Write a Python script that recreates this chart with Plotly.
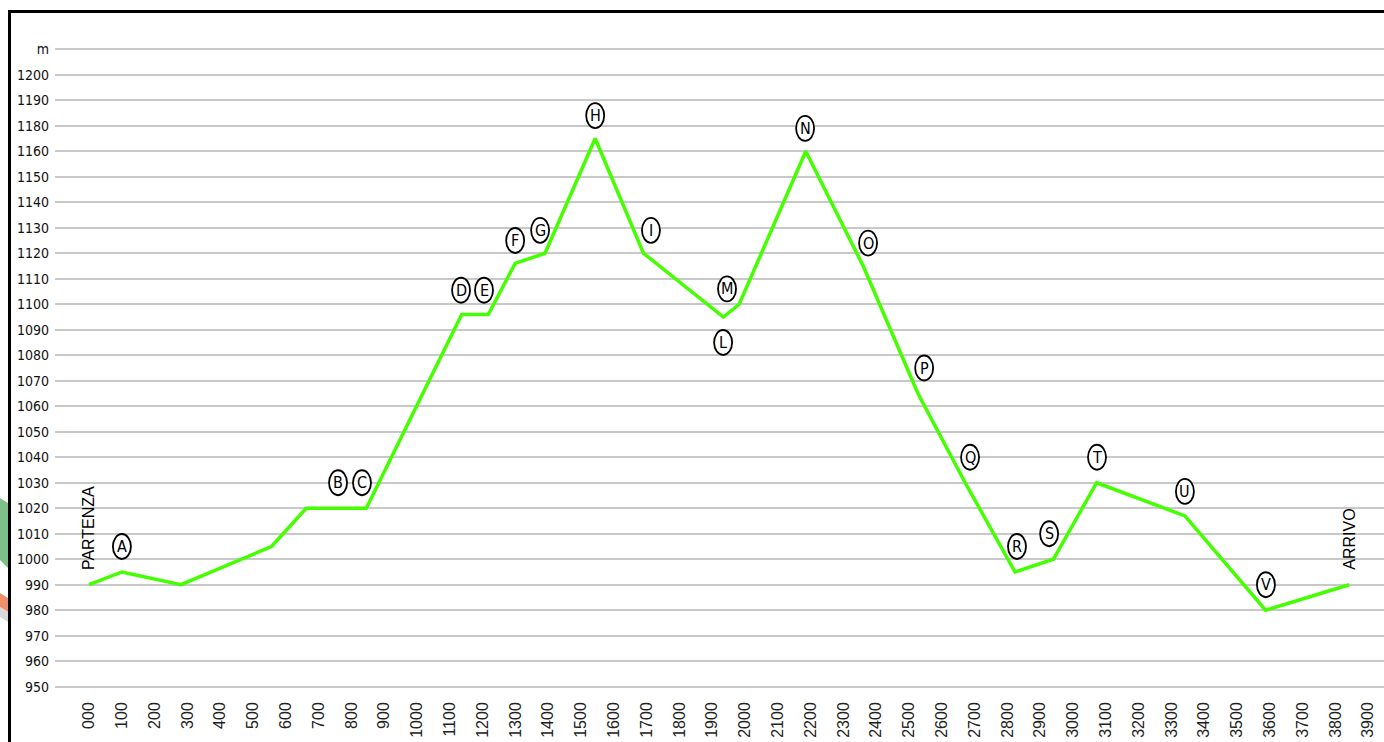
import plotly.graph_objects as go

# Profile data (distance in m, altitude in m)
dist = [0, 100, 280, 556, 662, 845, 1136, 1217, 1299, 1390, 1543, 1690, 1934, 1982,
        2185, 2360, 2527, 2671, 2823, 2940, 3072, 3341, 3587, 3842]
alt = [990, 995, 990, 1005, 1020, 1020, 1096, 1096, 1116, 1120, 1165, 1120, 1095, 1100,
       1160, 1115, 1065, 1030, 995, 1000, 1030, 1017, 980, 990]

# Waypoint labels
wp_letters = ["A", "B", "C", "D", "E", "F", "G", "H", "I", "L", "M", "N",
              "O", "P", "Q", "R", "S", "T", "U", "V"]
wp_x = [100, 759, 832, 1134, 1204, 1299, 1375, 1543, 1713, 1933, 1945, 2183,
        2375, 2546, 2686, 2829, 2927, 3073, 3341, 3588]
wp_y = [1005, 1030, 1030, 1105.5, 1105.5, 1125, 1129, 1174, 1129, 1085, 1106, 1169,
        1124, 1075, 1040, 1005, 1010, 1040, 1026.6, 990]

end_labels = ["PARTENZA", "ARRIVO"]
end_x = [0, 3842]
end_y = [995, 995]

# Axis ticks
y_tickvals = list(range(950, 1201, 10))
y_ticktext = [str(v) for v in range(950, 1161, 10)] + ["1180", "1190", "1200", "m"]
x_tickvals = list(range(0, 3901, 100))
x_ticktext = ["000"] + [str(v) for v in range(100, 3901, 100)]

NARROW = "DejaVu Sans Condensed, Liberation Sans Narrow, Arial"
SANS = "Liberation Sans, Arial"

fig = go.Figure()
fig.add_trace(go.Scatter(x=dist, y=alt, mode="lines",
                         line=dict(color="#44ff00", width=3.5),
                         hoverinfo="skip", showlegend=False))

shapes = []
annotations = []
for L, xv, yv in zip(wp_letters, wp_x, wp_y):
    shapes.append(dict(type="circle", xref="x", yref="y",
                       xsizemode="pixel", ysizemode="pixel",
                       xanchor=xv, yanchor=yv,
                       x0=-9, x1=9, y0=-12.5, y1=12.5,
                       line=dict(color="black", width=1.8),
                       fillcolor="white", layer="above"))
    annotations.append(dict(x=xv, y=yv, xref="x", yref="y", text=L,
                            showarrow=False, xanchor="center", yanchor="middle",
                            font=dict(family=NARROW, size=16, color="black")))

for t, xv, yv in zip(end_labels, end_x, end_y):
    annotations.append(dict(x=xv, y=yv, xref="x", yref="y", text=t, textangle=-90,
                            showarrow=False, xanchor="center", yanchor="bottom",
                            font=dict(family=SANS, size=16, color="black")))

# frame lines (paper coords)
L_px, R_px, T_px, B_px = 55, 1384, 48, 688
W = R_px - L_px
H = B_px - T_px
def px_x(p):
    return (p - L_px) / W
def px_y(p):
    return (B_px - p) / H

shapes.append(dict(type="line", xref="paper", yref="paper",
                   x0=px_x(9.5), x1=px_x(9.5), y0=px_y(10), y1=px_y(745),
                   line=dict(color="black", width=3), layer="above"))
shapes.append(dict(type="line", xref="paper", yref="paper",
                   x0=px_x(8), x1=px_x(1390), y0=px_y(11.5), y1=px_y(11.5),
                   line=dict(color="black", width=3), layer="above"))
# background logo fragments at left edge
shapes.append(dict(type="path", xref="paper", yref="paper",
                   path=f"M {px_x(0)} {px_y(498)} L {px_x(8)} {px_y(503)} L {px_x(8)} {px_y(568)} L {px_x(0)} {px_y(560)} Z",
                   fillcolor="#7fbf8a", line=dict(width=0), layer="below"))
shapes.append(dict(type="path", xref="paper", yref="paper",
                   path=f"M {px_x(0)} {px_y(593)} L {px_x(8)} {px_y(598)} L {px_x(8)} {px_y(612)} L {px_x(0)} {px_y(607)} Z",
                   fillcolor="#f0906a", line=dict(width=0), layer="below"))
shapes.append(dict(type="path", xref="paper", yref="paper",
                   path=f"M {px_x(0)} {px_y(607)} L {px_x(8)} {px_y(612)} L {px_x(8)} {px_y(622)} L {px_x(0)} {px_y(617)} Z",
                   fillcolor="#d9d9d9", line=dict(width=0), layer="below"))

x0_val = -104
x1_val = 3948
fig.update_layout(
    width=1384, height=742,
    margin=dict(l=L_px, r=0, t=T_px, b=742 - B_px),
    paper_bgcolor="white", plot_bgcolor="white",
    showlegend=False,
    shapes=shapes, annotations=annotations,
    xaxis=dict(range=[x0_val, x1_val], tickmode="array", tickvals=x_tickvals,
               ticktext=x_ticktext, tickangle=-90, showgrid=False, zeroline=False,
               showline=False, ticks="", ticklabelstandoff=10,
               tickfont=dict(family=SANS, size=16, color="#222")),
    yaxis=dict(range=[949.5, 1200.5], tickmode="array", tickvals=y_tickvals,
               ticktext=y_ticktext, showgrid=True, gridcolor="#c8c8c8", gridwidth=1.5,
               zeroline=False, showline=False, ticks="", ticklabelstandoff=5,
               tickfont=dict(family=NARROW, size=14, color="#111")),
)

fig.write_html("out.html", post_script="document.body.style.margin='0';",
               config={"displayModeBar": False})
